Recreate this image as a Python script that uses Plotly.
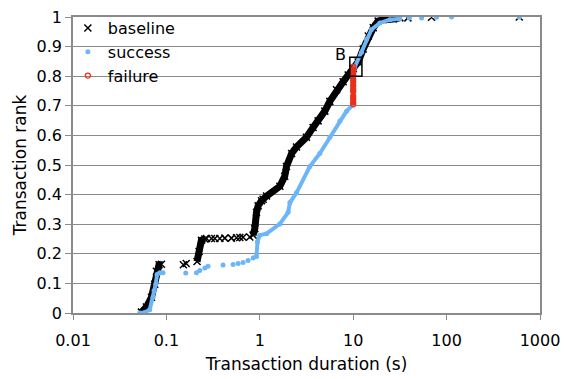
import math
import plotly.graph_objects as go

# ---- data: transaction duration (s) vs. cumulative rank ----
# baseline: dense runs of the CDF and isolated points
base_a_dur = [0.054, 0.0611, 0.0692, 0.075, 0.0782, 0.0834, 0.0885]
base_a_rank = [0.003, 0.020, 0.053, 0.097, 0.141, 0.163, 0.165]
base_b_dur = [0.213, 0.224, 0.237, 0.258]
base_b_rank = [0.174, 0.208, 0.246, 0.250]
base_c_dur = [0.848, 0.884, 0.922, 0.959, 1.043, 1.085, 1.18, 1.64, 1.85, 1.93,
              2.19, 2.47, 3.16, 3.72, 4.21, 4.97, 5.62, 6.63, 7.80, 8.83,
              10.0, 11.3, 12.8, 14.5, 16.4, 18.5, 20.9, 26.8, 31.6]
base_c_rank = [0.263, 0.285, 0.340, 0.362, 0.379, 0.384, 0.395, 0.428, 0.462, 0.495,
               0.539, 0.561, 0.594, 0.627, 0.649, 0.682, 0.715, 0.754, 0.781, 0.804,
               0.826, 0.848, 0.892, 0.936, 0.964, 0.986, 0.991, 0.993, 0.997]
base_sparse_dur = [0.152, 0.163, 0.269, 0.304, 0.330, 0.373, 0.422, 0.497, 0.563,
                   0.611, 0.662, 0.781, 38.5, 69, 600]
base_sparse_rank = [0.163, 0.167, 0.252, 0.252, 0.252, 0.252, 0.253, 0.253, 0.254,
                    0.255, 0.256, 0.257, 0.997, 0.999, 1.0]

# success
succ_a_dur = [0.0518, 0.0586, 0.0663, 0.0720, 0.0737, 0.0769, 0.0794, 0.0849]
succ_a_rank = [0.0, 0.002, 0.011, 0.053, 0.075, 0.097, 0.130, 0.136]
succ_c_dur = [0.848, 0.922, 0.945, 1.0, 1.18, 1.64, 2.01, 2.10, 2.47, 3.43,
              4.39, 5.62, 7.19, 8.49, 10.0]
succ_c_rank = [0.186, 0.191, 0.241, 0.263, 0.268, 0.301, 0.340, 0.373, 0.406, 0.495,
               0.539, 0.594, 0.649, 0.682, 0.704]
succ_d_dur = [10.4, 12.3, 13.9, 15.7, 19.3, 24.7, 31.6]
succ_d_rank = [0.831, 0.881, 0.925, 0.958, 0.980, 0.991, 0.994]
succ_sparse_dur = [0.092, 0.161, 0.210, 0.228, 0.258, 0.279, 0.404, 0.518, 0.586,
                   0.662, 0.749, 40, 54, 78, 113, 600]
succ_sparse_rank = [0.136, 0.135, 0.136, 0.144, 0.152, 0.158, 0.162, 0.164, 0.167,
                    0.171, 0.177, 0.997, 0.997, 0.999, 1.0, 1.0]

# failure: all at the 10 s timeout
fail_dur = [10.0] * 13
fail_rank = [0.705, 0.712, 0.724, 0.733, 0.748, 0.757, 0.769, 0.781, 0.790,
             0.804, 0.812, 0.823, 0.831]

x_ticks = [0.01, 0.1, 1, 10, 100, 1000]
x_tick_text = ["0.01", "0.1", "1", "10", "100", "1000"]

BLACK = "#000000"
BLUE = "#6cb6f8"
RED = "#e8301c"
GRID = "#8a8a8a"
FONT = "DejaVu Sans, Verdana, sans-serif"

fig = go.Figure()


def add_series(name, runs, sparse, color, line_width, marker):
    for dur, rank in runs:
        fig.add_trace(go.Scatter(x=dur, y=rank, mode="lines",
                                 line=dict(color=color, width=line_width),
                                 showlegend=False, hoverinfo="skip"))
    all_dur = [v for dur, _ in runs for v in dur] + list(sparse[0])
    all_rank = [v for _, rank in runs for v in rank] + list(sparse[1])
    fig.add_trace(go.Scatter(x=all_dur, y=all_rank, mode="markers",
                             marker=marker, name=name))


add_series("baseline",
           [(base_a_dur, base_a_rank), (base_b_dur, base_b_rank), (base_c_dur, base_c_rank)],
           (base_sparse_dur, base_sparse_rank), BLACK, 7,
           dict(symbol="x-thin", size=7, color=BLACK, line=dict(color=BLACK, width=1.5)))
add_series("success",
           [(succ_a_dur, succ_a_rank), (succ_c_dur, succ_c_rank), (succ_d_dur, succ_d_rank)],
           (succ_sparse_dur, succ_sparse_rank), BLUE, 4,
           dict(symbol="circle", size=5, color=BLUE))
add_series("failure", [(fail_dur, fail_rank)], ([], []), RED, 4.5,
           dict(symbol="circle-open", size=5, color=RED, line=dict(color=RED, width=1.3)))

# white patch behind the legend, hiding the gridlines but not the axis lines
fig.add_shape(type="rect", xref="paper", yref="paper", x0=0.004, x1=0.214, y0=0.77, y1=0.995,
              layer="between", line=dict(width=0), fillcolor="white")

# highlighted region "B"
fig.add_shape(type="rect", xref="x", yref="y", x0=9.2, x1=12.4, y0=0.80, y1=0.864,
              line=dict(color=BLACK, width=1.5), fillcolor="rgba(0,0,0,0)")
fig.add_annotation(x=math.log10(7.3), y=0.874, xref="x", yref="y", text="B",
                   showarrow=False, font=dict(size=16, color=BLACK, family=FONT))

fig.update_layout(
    width=564, height=379,
    margin=dict(l=73, r=24, t=11, b=66),
    paper_bgcolor="white", plot_bgcolor="white",
    font=dict(family=FONT, size=16, color="black"),
    showlegend=True,
    legend=dict(x=-0.011, y=1.02, xanchor="left", yanchor="top",
                bgcolor="rgba(0,0,0,0)", borderwidth=0, font=dict(size=16),
                tracegroupgap=0, itemwidth=30),
    xaxis=dict(type="log", range=[-2, 3], tickvals=x_ticks, ticktext=x_tick_text,
               ticks="outside", ticklen=5, tickcolor=GRID, showgrid=False,
               ticklabelstandoff=7, automargin=False,
               showline=True, linecolor=GRID, linewidth=1.5, mirror=True, zeroline=False,
               title=dict(text="Transaction duration (s)", standoff=9,
                          font=dict(size=17))),
    yaxis=dict(range=[0, 1], dtick=0.1, ticks="outside", ticklen=6, tickcolor=GRID,
               showgrid=True, gridcolor=GRID, gridwidth=1, automargin=False,
               showline=True, linecolor=GRID, linewidth=1.5, mirror=True, zeroline=False,
               title=dict(text="Transaction rank", standoff=6, font=dict(size=17))),
)

fig.write_html("out.html")
